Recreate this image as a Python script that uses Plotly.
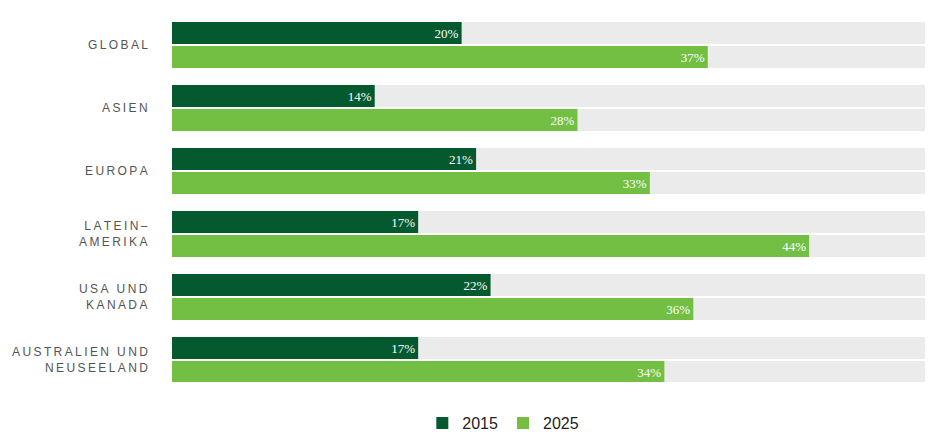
import plotly.graph_objects as go

regions = ["GLOBAL", "ASIEN", "EUROPA", "LATEIN–<br>AMERIKA", "USA UND<br>KANADA", "AUSTRALIEN UND<br>NEUSEELAND"]
v2015 = [20, 14, 21, 17, 22, 17]
v2025 = [37, 28, 33, 44, 36, 34]
xmax = 52

def spaced(s):
    return "<br>".join("\u2009".join(part) for part in s.split("<br>"))

pitch, h = 63, 22
y_dark = [-(i * pitch + 11) for i in range(len(regions))]
y_light = [-(i * pitch + 35) for i in range(len(regions))]

fig = go.Figure()
fig.add_trace(go.Bar(x=[xmax] * 12, y=y_dark + y_light, orientation="h", width=h,
                     marker=dict(color="#ebebeb", line_width=0), showlegend=False, hoverinfo="skip"))
for name, vals, ys, col in [("2015", v2015, y_dark, "#045a2e"), ("2025", v2025, y_light, "#72bf44")]:
    fig.add_trace(go.Bar(x=vals, y=ys, orientation="h", width=h, name=name,
                         marker=dict(color=col, line_width=0),
                         texttemplate="%{x}%", textposition="inside", insidetextanchor="end",
                         textfont=dict(color="white", family="Liberation Serif", size=13)))

for r, yd, yl in zip(regions, y_dark, y_light):
    fig.add_annotation(x=0, xref="paper", xshift=-22, xanchor="right", y=(yd + yl) / 2,
                       text=spaced(r), showarrow=False, align="right",
                       font=dict(family="Liberation Sans", size=12, color="#555"))

fig.update_layout(
    width=933, height=441, barmode="overlay", plot_bgcolor="white", paper_bgcolor="white",
    margin=dict(l=164, r=16, t=14, b=67, autoexpand=False),
    uniformtext=dict(minsize=13, mode="show"),
    xaxis=dict(range=[0, xmax], visible=False),
    yaxis=dict(range=[-360, 0], visible=False),
    legend=dict(orientation="h", x=0.44, xanchor="center", yref="container", y=0.02, yanchor="bottom",
                font=dict(family="Liberation Sans", size=16, color="#222")),
)
fig.write_html("out.html")
